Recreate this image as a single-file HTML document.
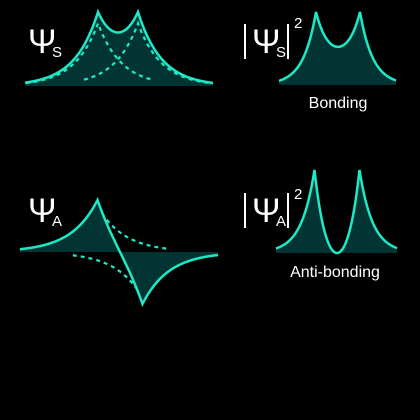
<!DOCTYPE html>
<html><head><meta charset="utf-8"><style>
body{margin:0;background:#000;width:420px;height:420px;overflow:hidden}
svg{display:block}
text{font-family:"Liberation Sans",sans-serif;fill:#fff}
</style></head><body>
<svg id="c" width="420" height="420" viewBox="0 0 420 420">
<rect width="420" height="420" fill="#000"/>
<g id="plots"></g>
<g><text x="28" y="53" font-size="34" font-family="Liberation Serif">Ψ</text><text x="52" y="57" font-size="15">S</text></g>
<g><rect x="244" y="24" width="2" height="35" fill="#fff"/><text x="252" y="53" font-size="34" font-family="Liberation Serif">Ψ</text><text x="276" y="57" font-size="15">S</text><rect x="287" y="24" width="2" height="35" fill="#fff"/><text x="294" y="28" font-size="15">2</text></g>
<text x="338" y="108" font-size="16" text-anchor="middle">Bonding</text>
<g><text x="28" y="222" font-size="34" font-family="Liberation Serif">Ψ</text><text x="52" y="226" font-size="15">A</text></g>
<g><rect x="244" y="193" width="2" height="35" fill="#fff"/><text x="252" y="222" font-size="34" font-family="Liberation Serif">Ψ</text><text x="276" y="226" font-size="15">A</text><rect x="287" y="193" width="2" height="35" fill="#fff"/><text x="294" y="199" font-size="15">2</text></g>
<text x="335" y="277" font-size="16" text-anchor="middle">Anti-bonding</text>
</svg>
<script>
const nucleusPositions = [-1, 1];
const decayRates = [0.85];
const orbitalSigns = [1, -1];
const NS = "http://www.w3.org/2000/svg";
const g = document.getElementById('plots');
const k = decayRates[0];
function orb(x, c){ return Math.exp(-k*Math.abs(x-c)); }
function psi(x, sgn){ return orb(x, nucleusPositions[0]) + sgn*orb(x, nucleusPositions[1]); }
function makePanel(p){
  const xs = v => p.cx + v*p.unit;
  const ys = v => p.base - v*p.amp;
  let pts = [];
  for(let px=p.x0; px<=p.x1; px+=0.5){
    const v=(px-p.cx)/p.unit; pts.push([px, ys(p.f(v))]);
  }
  const line = pts.map((q,i)=>(i?'L':'M')+q[0].toFixed(1)+' '+q[1].toFixed(1)).join(' ');
  const fill = document.createElementNS(NS,'path');
  fill.setAttribute('d', line+` L${p.x1} ${p.base} L${p.x0} ${p.base} Z`);
  fill.setAttribute('fill','#023434');
  
  
  g.appendChild(fill);
  (p.dashed||[]).forEach((d,i)=>{
    let s='';
    for(let v=d.from; v<=d.to; v+=0.02){
      s += (s?'L':'M')+xs(v).toFixed(1)+' '+ys(d.f(v)).toFixed(1)+' ';
    }
    const dp=document.createElementNS(NS,'path');
    dp.setAttribute('d',s);
    dp.setAttribute('fill','none');dp.setAttribute('stroke','#1de9c6');
    dp.setAttribute('stroke-width','2.2');dp.setAttribute('stroke-dasharray','4 4');
    
    
    g.appendChild(dp);
  });
  const lp = document.createElementNS(NS,'path');
  lp.setAttribute('d', line);
  lp.setAttribute('fill','none');lp.setAttribute('stroke','#1de9c6');lp.setAttribute('stroke-width','2.5');
  
  
  g.appendChild(lp);
}
const peakS = psi(nucleusPositions[0], orbitalSigns[0]);
const peakA = psi(nucleusPositions[0], orbitalSigns[1]);
makePanel({name:'psi-s', x0:25, x1:213, cx:118, unit:20, base:86, amp:74/peakS,
  f:v=>psi(v,orbitalSigns[0]),
  dashed:[{from:-4.6,to:1.7,f:v=>orb(v,nucleusPositions[0])},{from:-1.7,to:4.7,f:v=>orb(v,nucleusPositions[1])}]});
makePanel({name:'psi-s-squared', x0:279, x1:396, cx:338, unit:22, base:85, amp:73/(peakS*peakS),
  f:v=>psi(v,orbitalSigns[0])**2});
makePanel({name:'psi-a', x0:20, x1:218, cx:120, unit:22.5, base:252, amp:52/peakA,
  f:v=>psi(v,orbitalSigns[1]),
  dashed:[{from:-0.8,to:2.1,f:v=>orb(v,nucleusPositions[0])*0.72},{from:-2.1,to:0.8,f:v=>-orb(v,nucleusPositions[1])*0.72}]});
makePanel({name:'psi-a-squared', x0:276, x1:397, cx:337, unit:22.5, base:253, amp:83/(peakA*peakA),
  f:v=>psi(v,orbitalSigns[1])**2});
</script>
</body></html>
